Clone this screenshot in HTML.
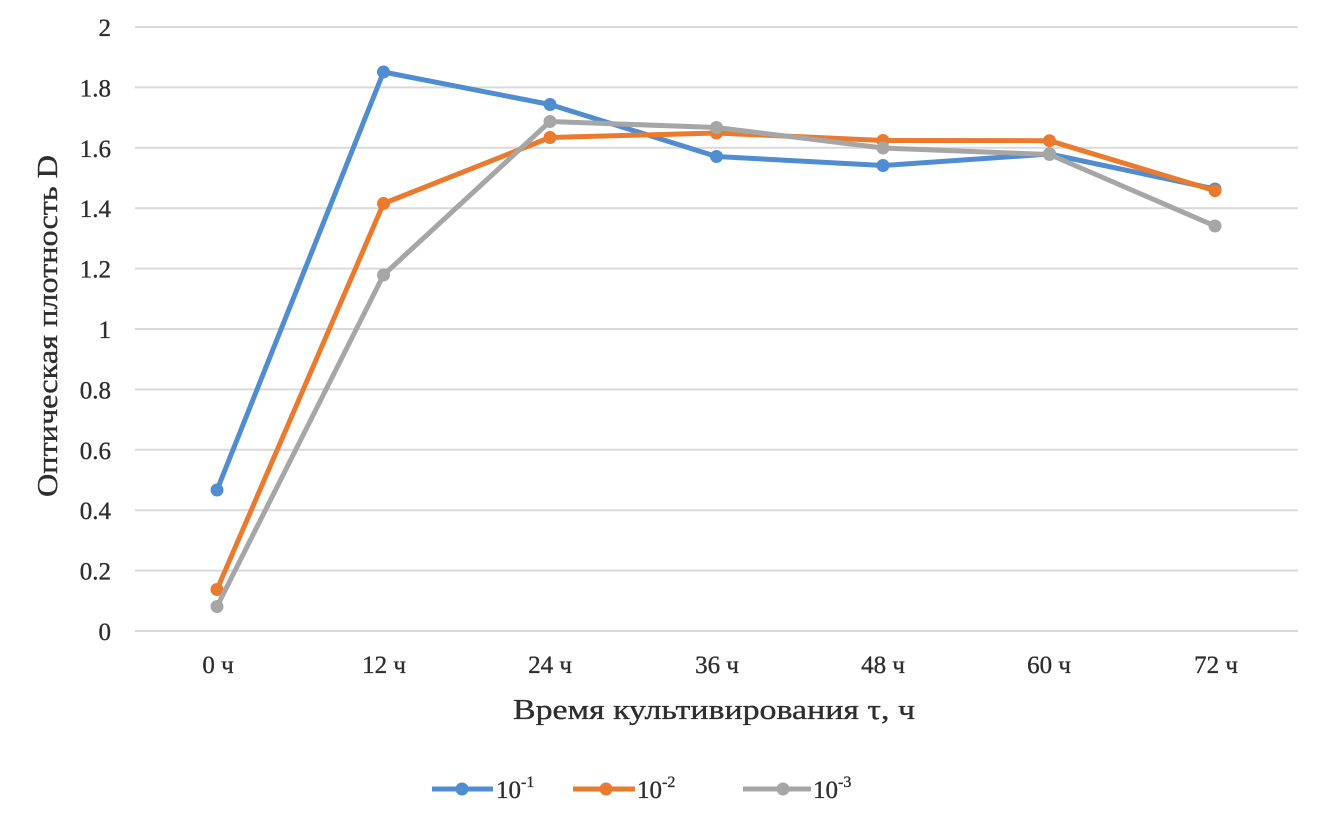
<!DOCTYPE html>
<html>
<head>
<meta charset="utf-8">
<style>
  html, body { margin: 0; padding: 0; background: #ffffff; }
  svg { display: block; }
  text { font-family: "Liberation Serif", "DejaVu Serif", serif; fill: #2e2e2e; stroke: #2e2e2e; stroke-width: 0.35; }
</style>
</head>
<body>
<svg width="1327" height="827" viewBox="0 0 1327 827" xmlns="http://www.w3.org/2000/svg">
  <rect x="0" y="0" width="1327" height="827" fill="#ffffff"/>

  <!-- gridlines -->
  <g stroke="#d9d9d9" stroke-width="2">
    <line x1="135" y1="27" x2="1298" y2="27"/>
    <line x1="135" y1="87.4" x2="1298" y2="87.4"/>
    <line x1="135" y1="147.8" x2="1298" y2="147.8"/>
    <line x1="135" y1="208.2" x2="1298" y2="208.2"/>
    <line x1="135" y1="268.6" x2="1298" y2="268.6"/>
    <line x1="135" y1="329" x2="1298" y2="329"/>
    <line x1="135" y1="389.4" x2="1298" y2="389.4"/>
    <line x1="135" y1="449.8" x2="1298" y2="449.8"/>
    <line x1="135" y1="510.2" x2="1298" y2="510.2"/>
    <line x1="135" y1="570.6" x2="1298" y2="570.6"/>
    <line x1="135" y1="631" x2="1298" y2="631"/>
  </g>

  <!-- y tick labels -->
  <g font-size="25" text-anchor="end">
    <text x="111" y="36">2</text>
    <text x="111" y="96.4">1.8</text>
    <text x="111" y="156.8">1.6</text>
    <text x="111" y="217.2">1.4</text>
    <text x="111" y="277.6">1.2</text>
    <text x="111" y="338">1</text>
    <text x="111" y="398.4">0.8</text>
    <text x="111" y="458.8">0.6</text>
    <text x="111" y="519.2">0.4</text>
    <text x="111" y="579.6">0.2</text>
    <text x="111" y="640">0</text>
  </g>

  <!-- x tick labels -->
  <g font-size="25" text-anchor="middle">
    <text x="218" y="673">0 ч</text>
    <text x="384" y="673">12 ч</text>
    <text x="550" y="673">24 ч</text>
    <text x="717" y="673">36 ч</text>
    <text x="883" y="673">48 ч</text>
    <text x="1049" y="673">60 ч</text>
    <text x="1216" y="673">72 ч</text>
  </g>

  <!-- axis titles -->
  <text x="513" y="719" font-size="28" textLength="402" lengthAdjust="spacingAndGlyphs">Время культивирования τ, ч</text>
  <text transform="translate(57,497) rotate(-90)" x="0" y="0" font-size="28" textLength="342" lengthAdjust="spacingAndGlyphs">Оптическая плотность D</text>

  <!-- series: blue 10^-1 -->
  <g stroke="#4f8dd0" fill="#4f8dd0">
    <polyline fill="none" stroke-width="5" stroke-linejoin="round" stroke-linecap="round"
      points="217,490 383.5,72 550,104.5 716.5,156.5 883,165.5 1049.5,154 1215,189"/>
    <g stroke="none">
      <circle cx="217" cy="490" r="6.5"/>
      <circle cx="383.5" cy="72" r="6.5"/>
      <circle cx="550" cy="104.5" r="6.5"/>
      <circle cx="716.5" cy="156.5" r="6.5"/>
      <circle cx="883" cy="165.5" r="6.5"/>
      <circle cx="1049.5" cy="154" r="6.5"/>
      <circle cx="1215" cy="189" r="6.5"/>
    </g>
  </g>

  <!-- series: orange 10^-2 -->
  <g stroke="#ea7a2e" fill="#ea7a2e">
    <polyline fill="none" stroke-width="5" stroke-linejoin="round" stroke-linecap="round"
      points="217,589.5 383.5,203.5 550,137.5 716.5,133 883,140.5 1049.5,140.7 1215,190.7"/>
    <g stroke="none">
      <circle cx="217" cy="589.5" r="6.5"/>
      <circle cx="383.5" cy="203.5" r="6.5"/>
      <circle cx="550" cy="137.5" r="6.5"/>
      <circle cx="716.5" cy="133" r="6.5"/>
      <circle cx="883" cy="140.5" r="6.5"/>
      <circle cx="1049.5" cy="140.7" r="6.5"/>
      <circle cx="1215" cy="190.7" r="6.5"/>
    </g>
  </g>

  <!-- series: gray 10^-3 -->
  <g stroke="#a6a6a6" fill="#a6a6a6">
    <polyline fill="none" stroke-width="5" stroke-linejoin="round" stroke-linecap="round"
      points="217,606.5 383.5,275 550,121.5 716.5,127.5 883,148 1049.5,154.5 1215,226"/>
    <g stroke="none">
      <circle cx="217" cy="606.5" r="6.5"/>
      <circle cx="383.5" cy="275" r="6.5"/>
      <circle cx="550" cy="121.5" r="6.5"/>
      <circle cx="716.5" cy="127.5" r="6.5"/>
      <circle cx="883" cy="148" r="6.5"/>
      <circle cx="1049.5" cy="154.5" r="6.5"/>
      <circle cx="1215" cy="226" r="6.5"/>
    </g>
  </g>

  <!-- legend -->
  <g>
    <line x1="432" y1="789" x2="493" y2="789" stroke="#4f8dd0" stroke-width="5"/>
    <circle cx="462" cy="789" r="6.5" fill="#4f8dd0"/>
    <text x="496" y="798" font-size="25">10<tspan font-size="16" dy="-11">-1</tspan></text>

    <line x1="573" y1="789" x2="635" y2="789" stroke="#ea7a2e" stroke-width="5"/>
    <circle cx="606" cy="789" r="6.5" fill="#ea7a2e"/>
    <text x="637" y="798" font-size="25">10<tspan font-size="16" dy="-11">-2</tspan></text>

    <line x1="743" y1="789" x2="811" y2="789" stroke="#a6a6a6" stroke-width="5"/>
    <circle cx="783" cy="789" r="6.5" fill="#a6a6a6"/>
    <text x="813" y="798" font-size="25">10<tspan font-size="16" dy="-11">-3</tspan></text>
  </g>
</svg>
</body>
</html>
